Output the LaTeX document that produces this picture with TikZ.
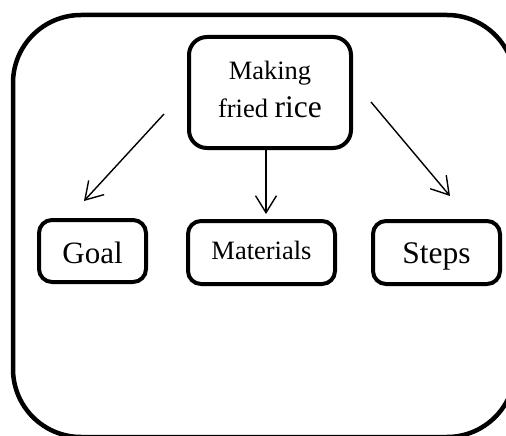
\documentclass[tikz,border=0pt]{standalone}
\usepackage{fontspec}
\setmainfont{Liberation Serif}
\usetikzlibrary{arrows.meta}

\begin{document}
\begin{tikzpicture}[x=1pt,y=-1pt,
  box/.style={draw,line width=4pt,rounded corners=13pt,inner sep=0pt,align=center,text depth=0pt},
  link/.style={line width=1.4pt,-{Straight Barb[length=17pt,width=21pt]}}]
  \useasboundingbox (0,0) rectangle (506,436);
  \clip (0,0) rectangle (506,436);
  \draw[line width=4.5pt,rounded corners=68pt] (13,15) rectangle (515,437);
  \node[box,rounded corners=18pt,minimum width=162pt,minimum height=111pt,text depth=7pt,font=\fontsize{26.5}{38}\selectfont] (top) at (270,92.5)
    {Making\\fried {\fontsize{31.5}{38}\selectfont rice}};
  \node[box,minimum width=107pt,minimum height=62pt,text height=24pt,font=\fontsize{31}{36}\selectfont] (goal) at (92.5,251) {Goal};
  \node[box,minimum width=147pt,minimum height=63pt,text height=13pt,font=\fontsize{26.5}{32}\selectfont] (mat) at (261.5,252.5) {Materials};
  \node[box,minimum width=127pt,minimum height=63pt,text height=21pt,font=\fontsize{31.5}{36}\selectfont] (steps) at (436.5,252.5) {Steps};
  \coordinate (g1) at (164,114);
  \coordinate (g2) at (84,201);
  \coordinate (m1) at (266,146);
  \coordinate (m2) at (266,214);
  \coordinate (s1) at (371,102);
  \coordinate (s2) at (450,196);
  \draw[link] (g1) -- (g2);
  \draw[link] (m1) -- (m2);
  \draw[link] (s1) -- (s2);

\end{tikzpicture}
\end{document}
